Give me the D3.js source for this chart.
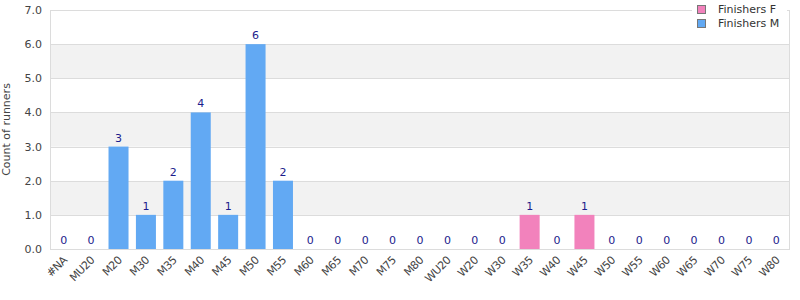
<!DOCTYPE html>
<html>
<head>
<meta charset="utf-8">
<script src="https://cdn.jsdelivr.net/npm/d3@7"></script>
<style>
  body { margin: 0; background: #fff; }
  text { font-family: "DejaVu Sans", sans-serif; }
</style>
</head>
<body>
<svg id="svg" width="800" height="300"></svg>
<script>
const categories = ['#NA', 'MU20', 'M20', 'M30', 'M35', 'M40', 'M45', 'M50', 'M55', 'M60', 'M65', 'M70', 'M75', 'M80',
  'WU20', 'W20', 'W30', 'W35', 'W40', 'W45', 'W50', 'W55', 'W60', 'W65', 'W70', 'W75', 'W80']
const finishersF = [0, 0, 0, 0, 0, 0, 0, 0, 0, 0, 0, 0, 0, 0, 0, 0, 0, 1, 0, 1, 0, 0, 0, 0, 0, 0, 0]
const finishersM = [0, 0, 3, 1, 2, 4, 1, 6, 2, 0, 0, 0, 0, 0, 0, 0, 0, 0, 0, 0, 0, 0, 0, 0, 0, 0, 0]
const yTicks = [0, 1, 2, 3, 4, 5, 6, 7]
const seriesNames = ['Finishers F', 'Finishers M']
const colors = ['#f282bc', '#62a9f3']

const svg = d3.select('#svg')
const padding = { top: 10, right: 10, bottom: 51, left: 50 }
const chartArea = {
  width: 800 - padding.left - padding.right,
  height: 300 - padding.top - padding.bottom
}

const xScale = d3.scaleBand()
  .domain(categories)
  .range([0, chartArea.width])
  .paddingInner(0.27)
  .paddingOuter(0.135)

const yScale = d3.scaleLinear()
  .domain([0, 7])
  .range([chartArea.height, 0])

const g = svg.append('g')
  .attr('transform', 'translate(' + padding.left + ',' + padding.top + ')')

// alternating bands
g.selectAll('rect.band')
  .data(yTicks.slice(0, -1))
  .enter()
  .append('rect')
  .attr('x', 0)
  .attr('width', chartArea.width)
  .attr('y', d => yScale(d + 1))
  .attr('height', d => yScale(d) - yScale(d + 1))
  .attr('fill', d => d % 2 === 1 ? '#f2f2f2' : '#ffffff')

g.selectAll('line.grid')
  .data(yTicks)
  .enter()
  .append('line')
  .attr('x1', 0)
  .attr('x2', chartArea.width)
  .attr('y1', d => Math.round(yScale(d)) + 0.5)
  .attr('y2', d => Math.round(yScale(d)) + 0.5)
  .attr('stroke', '#dcdcdc')

g.append('line')
  .attr('x1', 0.5).attr('x2', 0.5)
  .attr('y1', 0).attr('y2', chartArea.height)
  .attr('stroke', '#dcdcdc')
g.append('line')
  .attr('x1', chartArea.width - 0.5).attr('x2', chartArea.width - 0.5)
  .attr('y1', 0).attr('y2', chartArea.height)
  .attr('stroke', '#dcdcdc')

// stacked bars
const stackData = categories.map((c, i) => ({ cat: c, F: finishersF[i], M: finishersM[i] }))
const stacked = d3.stack().keys(['F', 'M'])(stackData)

g.selectAll('g.series')
  .data(stacked)
  .enter()
  .append('g')
  .attr('fill', (d, i) => colors[i])
  .selectAll('rect')
  .data(d => d.filter(p => p[1] > p[0]))
  .enter()
  .append('rect')
  .attr('x', d => xScale(d.data.cat))
  .attr('width', xScale.bandwidth())
  .attr('y', d => yScale(d[1]))
  .attr('height', d => yScale(d[0]) - yScale(d[1]))

// totals
g.selectAll('text.total')
  .data(stackData)
  .enter()
  .append('text')
  .attr('x', d => xScale(d.cat) + xScale.bandwidth() / 2)
  .attr('y', d => yScale(d.F + d.M) - 5)
  .attr('text-anchor', 'middle')
  .attr('font-size', 11)
  .attr('fill', '#1c1c8c')
  .text(d => d.F + d.M)

// y axis
g.selectAll('text.ytick')
  .data(yTicks)
  .enter()
  .append('text')
  .attr('x', -8)
  .attr('y', d => yScale(d) + 4)
  .attr('text-anchor', 'end')
  .attr('font-size', 11)
  .attr('fill', '#444')
  .text(d => d.toFixed(1))

svg.append('text')
  .attr('transform', 'translate(10,' + (padding.top + chartArea.height / 2) + ') rotate(-90)')
  .attr('text-anchor', 'middle')
  .attr('font-size', 11)
  .attr('fill', '#444')
  .text('Count of runners')

// x axis labels
g.selectAll('text.xtick')
  .data(categories)
  .enter()
  .append('text')
  .attr('transform', d => 'translate(' + (xScale(d) + xScale.bandwidth() / 2 + 4) + ',' + (chartArea.height + 12) + ') rotate(-45)')
  .attr('text-anchor', 'end')
  .attr('font-size', 11)
  .attr('letter-spacing', -0.5)
  .attr('fill', '#444')
  .text(d => d)

// legend
const legend = svg.append('g')
  .attr('transform', 'translate(692,0)')
legend.append('rect')
  .attr('x', 0).attr('y', 0)
  .attr('width', 95).attr('height', 36)
  .attr('fill', '#fff')
seriesNames.forEach((name, i) => {
  legend.append('rect')
    .attr('x', 5.5).attr('y', 5.5 + i * 14)
    .attr('width', 8).attr('height', 8)
    .attr('fill', colors[i])
    .attr('stroke', '#777')
  legend.append('text')
    .attr('x', 26).attr('y', 13 + i * 14)
    .attr('font-size', 11)
    .attr('fill', '#333')
    .text(name)
})
</script>
</body>
</html>
